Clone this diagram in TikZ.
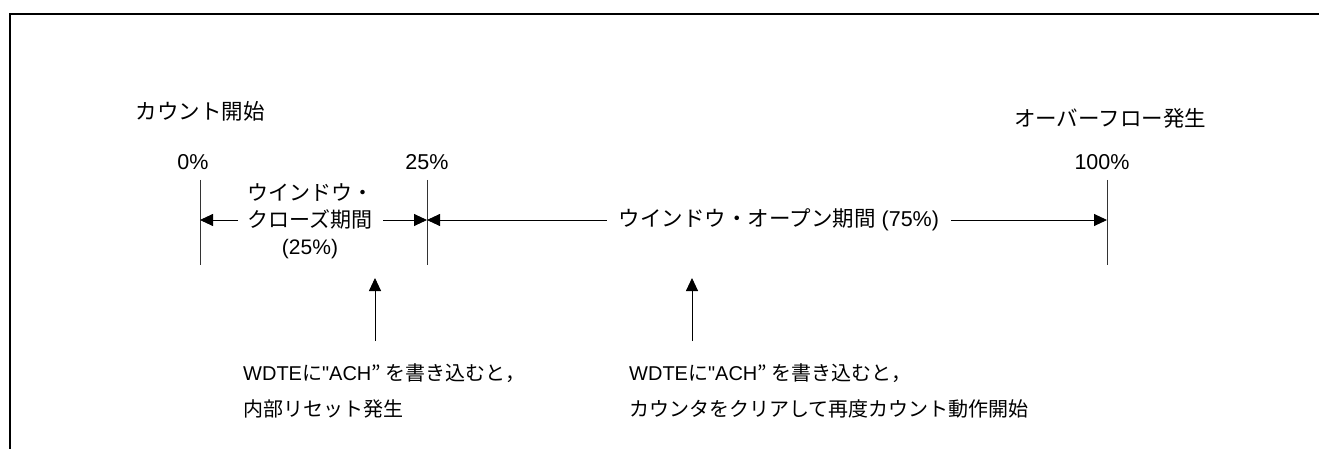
\documentclass[tikz,border=0pt]{standalone}
\usepackage{fontspec}
\setmainfont{Liberation Sans}[Ligatures=TeXOff]
\newfontfamily\jp{Noto Sans CJK JP}
\usetikzlibrary{arrows.meta}
\begin{document}
\begin{tikzpicture}[x=1pt,y=-1pt,
  lbl/.style={inner sep=0pt, font=\fontsize{21.5}{25}\selectfont},
  notetext/.style={inner sep=0pt, anchor=west, align=left, font=\fontsize{20}{36}\selectfont},
  tickline/.style={line width=1pt, draw=black!80},
  conn/.style={line width=0.9pt, -{Triangle[length=13pt,width=12pt]}},
  framel/.style={line width=2.8pt}]
\useasboundingbox (0,0) rectangle (1319,449);
\draw[framel] (10,449) -- (10,14) -- (1319,14);
% ticks
\coordinate (t0top) at (200,180);
\coordinate (t0bot) at (200,265);
\coordinate (t0mid) at (200,220);
\coordinate (t25top) at (427,180);
\coordinate (t25bot) at (427,265);
\coordinate (t25mid) at (427,220);
\coordinate (t100top) at (1107,180);
\coordinate (t100bot) at (1107,265);
\coordinate (t100mid) at (1107,220);
\draw[tickline] (t0top) -- (t0bot);
\draw[tickline] (t25top) -- (t25bot);
\draw[tickline] (t100top) -- (t100bot);
% labels
\node[lbl] (start) at (200,111) {\jp カウント開始};
\node[lbl] (over) at (1110,118) {\jp オーバーフロー発生};
\node[lbl] (p0) at (193,162) {0\%};
\node[lbl] (p25) at (427,162) {25\%};
\node[lbl] (p100) at (1102,162) {100\%};
\node[lbl, align=center, font=\fontsize{21}{27}\selectfont] (close) at (310,221)
  {{\jp ウインドウ・}\\{\jp クローズ期間}\\(25\%)};
\node[lbl] (open) at (779,220) {{\jp ウインドウ・オープン期間} (75\%)};
% period arrows
\coordinate (cl) at (238,220);
\coordinate (cr) at (383,220);
\draw[conn] (cl) -- (t0mid);
\draw[conn] (cr) -- (t25mid);
\draw[conn] ([xshift=-12pt]open.west) -- (t25mid);
\draw[conn] ([xshift=12pt]open.east) -- (t100mid);
% notes
\node[notetext] (note1) at (243,391)
  {WDTE{\jp に}"ACH{\jp ”\hspace{5pt}を書き込むと，}\\{\jp 内部リセット発生}};
\node[notetext] (note2) at (629,391)
  {WDTE{\jp に}"ACH{\jp ”\hspace{5pt}を書き込むと，}\\{\jp カウンタをクリアして再度カウント動作開始}};
\coordinate (a1top) at (375,278);
\coordinate (a1bot) at (375,341);
\coordinate (a2top) at (692,278);
\coordinate (a2bot) at (692,341);
\draw[conn] (a1bot) -- (a1top);
\draw[conn] (a2bot) -- (a2top);
\end{tikzpicture}
\end{document}
